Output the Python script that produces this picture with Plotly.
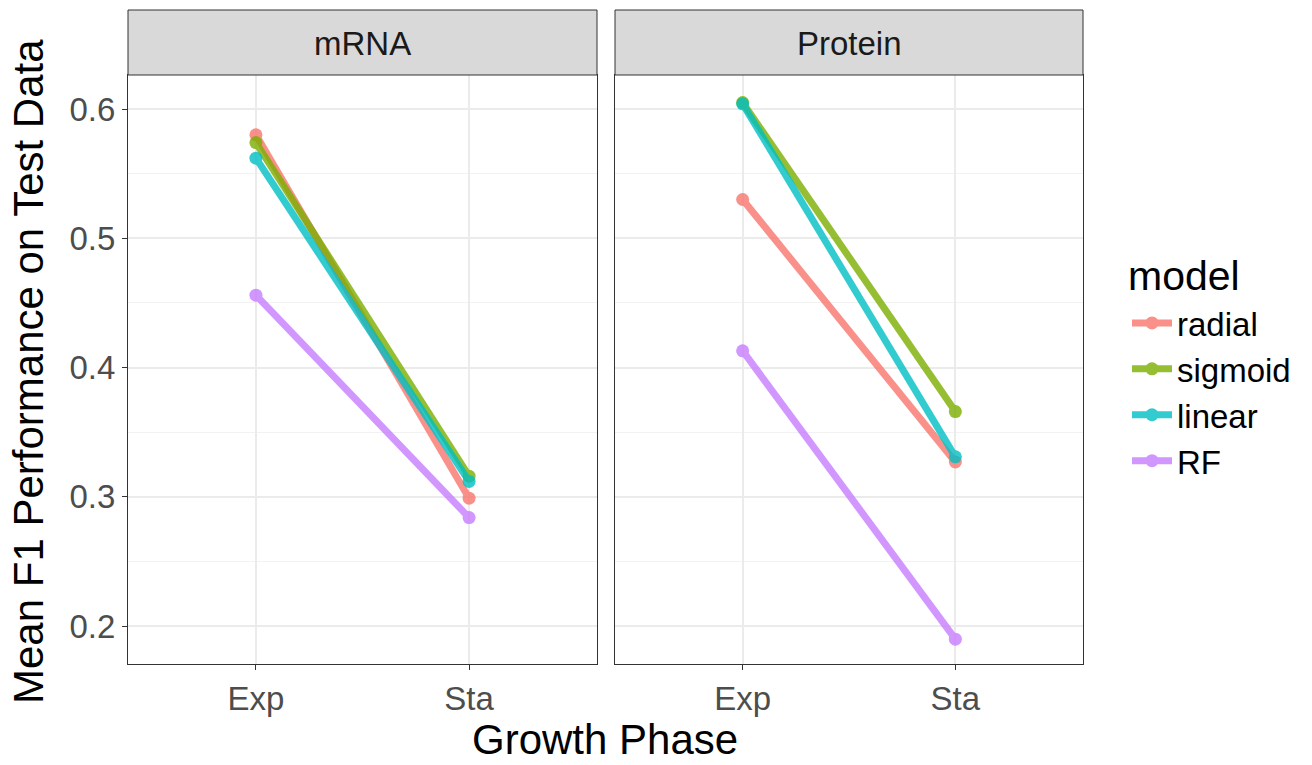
import plotly.graph_objects as go

phases = ["Exp", "Sta"]
models = ["radial", "sigmoid", "linear", "RF"]
colors = ["#F8766D", "#7CAE00", "#00BFC4", "#C77CFF"]
mrna = {
    "radial": [0.580, 0.299],
    "sigmoid": [0.574, 0.316],
    "linear": [0.562, 0.312],
    "RF": [0.456, 0.284],
}
protein = {
    "radial": [0.530, 0.327],
    "sigmoid": [0.605, 0.366],
    "linear": [0.604, 0.331],
    "RF": [0.413, 0.190],
}
panels = ["mRNA", "Protein"]
yticks = [0.2, 0.3, 0.4, 0.5, 0.6]

W, H = 1312, 765
FONT = "Liberation Sans, Arial"
fig = go.Figure()

for i, (data, xa, ya) in enumerate([(mrna, "x", "y"), (protein, "x2", "y2")]):
    for m, c in zip(models, colors):
        fig.add_trace(go.Scatter(
            x=phases, y=data[m], mode="lines+markers", name=m,
            line=dict(color=c, width=7), marker=dict(color=c, size=13),
            opacity=0.8, xaxis=xa, yaxis=ya, legendgroup=m,
            showlegend=(i == 0),
        ))

def px(x):
    return x / W

def py(y):
    return 1 - y / H

xdoms = [[px(128), px(597)], [px(615), px(1083)]]
ydom = [py(664), py(75)]
yr = [0.6 - (664 - 109) / 1293, 0.6 + (109 - 75) / 1293]

common_x = dict(type="category", range=[-0.6, 1.6], showgrid=True, gridcolor="#EBEBEB",
                gridwidth=1.5, showline=True, mirror=True, linecolor="#333333", linewidth=1,
                ticks="outside", ticklen=5, tickcolor="#333333",
                tickfont=dict(family=FONT, size=33, color="#4D4D4D"),
                zeroline=False)
common_y = dict(range=yr, tickvals=yticks, ticktext=[f"{v:.1f}" for v in yticks],
                showgrid=True, gridcolor="#EBEBEB", gridwidth=1.5,
                minor=dict(dtick=0.05, tick0=0.15, showgrid=True, gridcolor="#F2F2F2", gridwidth=1),
                showline=True, mirror=True, linecolor="#333333", linewidth=1,
                ticks="outside", ticklen=5, tickcolor="#333333",
                tickfont=dict(family=FONT, size=33, color="#4D4D4D"),
                zeroline=False, domain=ydom)

fig.update_layout(
    width=W, height=H, margin=dict(l=0, r=0, t=0, b=0),
    paper_bgcolor="white", plot_bgcolor="white",
    xaxis=dict(common_x, domain=xdoms[0], anchor="y"),
    xaxis2=dict(common_x, domain=xdoms[1], anchor="y2"),
    yaxis=dict(common_y, anchor="x"),
    yaxis2=dict(common_y, anchor="x2", showticklabels=False, ticks=""),
    legend=dict(x=px(1127), y=py(295), xanchor="left", yanchor="top",
                font=dict(family=FONT, size=33, color="black"),
                tracegroupgap=0, itemwidth=40, bgcolor="rgba(0,0,0,0)"),
    font=dict(family=FONT),
)

shapes = []
annotations = []
for name, d in zip(panels, xdoms):
    shapes.append(dict(type="rect", xref="paper", yref="paper", x0=d[0], x1=d[1],
                       y0=py(75), y1=py(10), fillcolor="#D9D9D9",
                       line=dict(color="#333333", width=1), layer="above"))
    annotations.append(dict(text=name, xref="paper", yref="paper", x=(d[0] + d[1]) / 2,
                            y=py(43), showarrow=False, xanchor="center", yanchor="middle",
                            font=dict(size=33, color="#1A1A1A", family=FONT)))
annotations.append(dict(text="model", xref="paper", yref="paper", x=px(1126), y=py(276),
                        showarrow=False, xanchor="left", yanchor="middle",
                        font=dict(size=41, color="black", family=FONT)))
annotations.append(dict(text="Growth Phase", xref="paper", yref="paper", x=px(605), y=py(739),
                        showarrow=False, xanchor="center", yanchor="middle", borderpad=0,
                        font=dict(size=42, color="black", family=FONT)))
annotations.append(dict(text="Mean F1 Performance on Test Data", xref="paper", yref="paper",
                        x=px(28), y=py(372), showarrow=False, textangle=-90,
                        xanchor="center", yanchor="middle",
                        font=dict(size=42, color="black", family=FONT)))
fig.update_layout(shapes=shapes, annotations=annotations)

fig.write_html("out.html")
